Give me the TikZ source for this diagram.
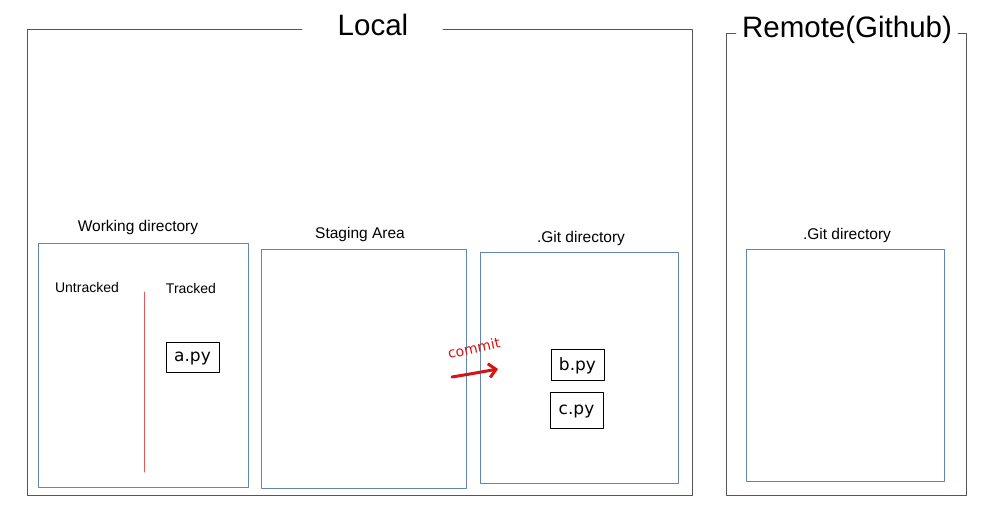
\documentclass[tikz,border=0pt]{standalone}
\usepackage{fontspec}
\setmainfont{Liberation Sans}
\newfontfamily\handfont{DejaVu Sans}
\usetikzlibrary{arrows.meta,positioning}

\definecolor{boxblue}{RGB}{98,134,180}
\definecolor{framegray}{RGB}{85,85,85}
\definecolor{penred}{RGB}{214,20,20}

\begin{document}
\begin{tikzpicture}[x=1pt,y=-1pt,line cap=round,line join=round,
  areabox/.style={draw=boxblue,line width=.8pt,minimum width=#1},
  filebox/.style={draw=black,line width=.7pt,font=\handfont\fontsize{17}{17}\selectfont,inner sep=0pt,text depth=0pt,minimum height=30pt},
  areatitle/.style={font=\fontsize{15.5}{16}\selectfont,inner sep=1pt},
  bigtitle/.style={font=\fontsize{29.5}{30}\selectfont,inner sep=1pt}]
\path[use as bounding box] (0,0) rectangle (984,513);
% outer frames
\node[bigtitle] (local) at (373,25) {Local};
\node[bigtitle] (remote) at (847,30) {Remote(Github)};
\draw[draw=framegray,line width=.8pt] (302,29) -- (27,29) -- (27,495) -- (692,495) -- (692,29) -- (443,29);
\draw[draw=framegray,line width=.8pt] (736,33) -- (726,33) -- (726,495) -- (966,495) -- (966,33) -- (958,33);
% areas
\node[areabox=210pt,minimum height=244pt] (work) at (143,365) {};
\node[areabox=205pt,minimum height=239pt] (stage) at (363.5,368.5) {};
\node[areabox=198pt,minimum height=231pt] (gitdir) at (579,367.5) {};
\node[areabox=198pt,minimum height=232pt] (remotegit) at (845,365) {};
\node[areatitle] (worklabel) at (138,227) {Working directory};
\node[areatitle] (stagelabel) at (360,234) {Staging Area};
\node[areatitle] (gitlabel) at (581,238) {.Git directory};
\node[areatitle] (remotelabel) at (847,235) {.Git directory};
% working directory split
\node[font=\fontsize{14}{14}\selectfont,inner sep=1pt] (untracked) at (87,287) {Untracked};
\node[font=\fontsize{14}{14}\selectfont,inner sep=1pt] (tracked) at (191,288) {Tracked};
\coordinate (splittop) at (144,292);
\coordinate (splitbot) at (144,472);
\draw[draw=penred!60!pink,line width=1pt] (splittop) -- (splitbot);
% files
\node[filebox,minimum width=53pt] (apy) at (192.5,357) {a.py};
\node[filebox,minimum width=53pt,minimum height=31pt] (bpy) at (577.5,364.5) {b.py};
\node[filebox,minimum width=53pt,minimum height=36pt] (cpy) at (576.5,410) {c.py};
% commit
\coordinate (commitstart) at (452,377);
\coordinate (commitend) at (498,369);
\draw[draw=penred,line width=3pt,-{Straight Barb[length=7pt,width=14pt]}] (commitstart) .. controls (470,374) .. (commitend);
\node[text=penred,font=\handfont\fontsize{14}{14}\selectfont,rotate=12,inner sep=0pt] (commitlabel) at (474,348) {commit};
\end{tikzpicture}
\end{document}
